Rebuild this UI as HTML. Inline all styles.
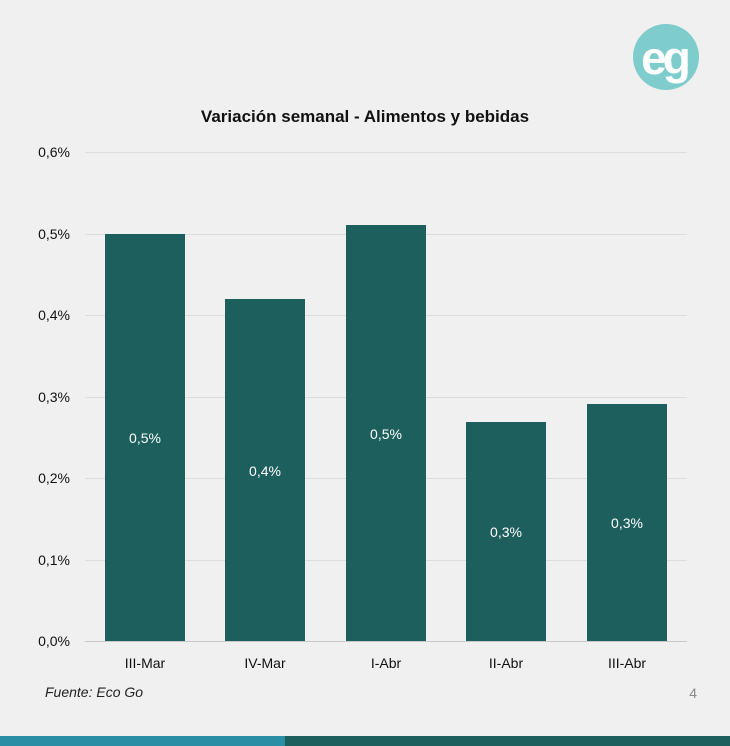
<!DOCTYPE html>
<html><head><meta charset="utf-8"><style>
body{margin:0;width:730px;height:746px;background:#f0f0f0;overflow:hidden;font-family:"Liberation Sans",sans-serif;position:relative}
</style></head><body>
<svg width="730" height="746" style="position:absolute;left:0;top:0" font-family="Liberation Sans, sans-serif">
<circle cx="666" cy="57" r="33" fill="#7fcccc"/>
<text x="664" y="74" font-size="46" fill="#fff" text-anchor="middle" font-weight="bold" letter-spacing="-4">eg</text>
<text x="365" y="122" font-size="17" font-weight="bold" text-anchor="middle" fill="#111">Variación semanal - Alimentos y bebidas</text>
<g stroke="#dcdcdc" stroke-width="1">
<line x1="85" x2="687" y1="152.5" y2="152.5"/><line x1="85" x2="687" y1="234.5" y2="234.5"/>
<line x1="85" x2="687" y1="315.5" y2="315.5"/><line x1="85" x2="687" y1="397.5" y2="397.5"/>
<line x1="85" x2="687" y1="478.5" y2="478.5"/><line x1="85" x2="687" y1="560.5" y2="560.5"/>
</g>
<line x1="85" x2="687" y1="641.5" y2="641.5" stroke="#c8c8c8"/>
<g font-size="14" fill="#111" text-anchor="end">
<text x="70" y="157">0,6%</text><text x="70" y="239">0,5%</text><text x="70" y="320">0,4%</text>
<text x="70" y="402">0,3%</text><text x="70" y="483">0,2%</text><text x="70" y="565">0,1%</text><text x="70" y="646">0,0%</text>
</g>
<g fill="#1d5f5c">
<rect x="105" y="234" width="80" height="407"/><rect x="225" y="299" width="80" height="342"/>
<rect x="346" y="225" width="80" height="416"/><rect x="466" y="422" width="80" height="219"/>
<rect x="587" y="404" width="80" height="237"/>
</g>
<g font-size="14" fill="#fff" text-anchor="middle">
<text x="145" y="443">0,5%</text><text x="265" y="476">0,4%</text><text x="386" y="439">0,5%</text>
<text x="506" y="537">0,3%</text><text x="627" y="528">0,3%</text>
</g>
<g font-size="14" fill="#111" text-anchor="middle">
<text x="145" y="668">III-Mar</text><text x="265" y="668">IV-Mar</text><text x="386" y="668">I-Abr</text>
<text x="506" y="668">II-Abr</text><text x="627" y="668">III-Abr</text>
</g>
<text x="45" y="697" font-size="14" font-style="italic" fill="#222">Fuente: Eco Go</text>
<text x="697" y="698" font-size="14" fill="#888" text-anchor="end">4</text>
<rect x="0" y="736" width="285" height="10" fill="#2a8fa5"/>
<rect x="285" y="736" width="445" height="10" fill="#1d5f5c"/>
</svg>
</body></html>
